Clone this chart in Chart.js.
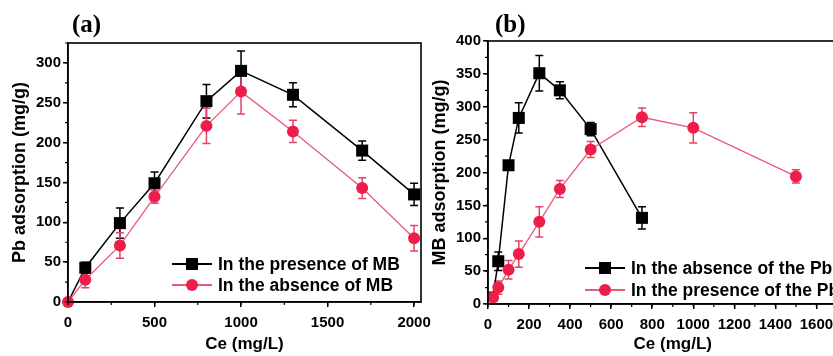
<!DOCTYPE html>
<html><head><meta charset="utf-8">
<script src="https://cdn.jsdelivr.net/npm/chart.js@4/dist/chart.umd.min.js"></script>
<style>
html,body{margin:0;padding:0;width:833px;height:356px;overflow:hidden;background:#fff;}
canvas{position:absolute;top:0;}
#ca{left:0;}
#cb{left:420px;}
.plabel{position:absolute;top:10px;font:bold 25px "Liberation Serif","Times New Roman",serif;color:#000;}
.leg{position:absolute;height:20px;line-height:20px;white-space:nowrap;font:bold 17.5px "Liberation Sans",Arial,sans-serif;color:#000;}
.leg .ln{position:absolute;left:0;top:9px;width:40px;height:1.5px;}
.leg .mk{position:absolute;}
.leg .tx{position:absolute;left:46px;top:0;}
</style>
</head><body>
<canvas id="ca" width="440" height="356"></canvas>
<canvas id="cb" width="446" height="356"></canvas>
<div class="plabel" style="left:72px;">(a)</div>
<div class="plabel" style="left:495px;">(b)</div>
<div class="leg" style="left:172px;top:254px;"><span class="ln" style="background:#000"></span><span class="mk" style="left:14px;top:4px;width:12px;height:12px;background:#000"></span><span class="tx" id="la1"></span></div>
<div class="leg" style="left:172px;top:275px;"><span class="ln" style="background:#e85a7a"></span><span class="mk" style="left:14px;top:4px;width:12px;height:12px;border-radius:50%;background:#ee1e4a"></span><span class="tx" id="la2"></span></div>
<div class="leg" style="left:585px;top:258px;"><span class="ln" style="background:#000"></span><span class="mk" style="left:14px;top:4px;width:12px;height:12px;background:#000"></span><span class="tx" id="lb1"></span></div>
<div class="leg" style="left:585px;top:280px;"><span class="ln" style="background:#e85a7a"></span><span class="mk" style="left:14px;top:4px;width:12px;height:12px;border-radius:50%;background:#ee1e4a"></span><span class="tx" id="lb2"></span></div>
<script>
// ---- Panel (a) data ----
const ceA = [0, 100, 300, 500, 800, 1000, 1300, 1700, 2000];
const pbWithMB = [0, 43, 99, 149, 252, 290, 260, 190, 135];
const pbWithMBErr = [0, 7, 19, 14, 21, 25, 15, 12, 14];
const pbWithoutMB = [0, 28, 71, 132, 221, 264, 214, 143, 80];
const pbWithoutMBErr = [0, 10, 16, 8, 22, 28, 14, 13, 16];
const labelsA = ['In the presence of MB', 'In the absence of MB'];
const ticksAX = [0, 500, 1000, 1500, 2000];
const ticksAY = [0, 50, 100, 150, 200, 250, 300];

// ---- Panel (b) data ----
const ceB1 = [25, 50, 100, 150, 250, 350, 500, 750];
const mbWithoutPb = [13, 65, 211, 283, 351, 325, 266, 131];
const mbWithoutPbErr = [5, 14, 0, 23, 27, 13, 10, 17];
const ceB2 = [25, 50, 100, 150, 250, 350, 500, 750, 1000, 1500];
const mbWithPb = [10, 25, 52, 76, 125, 175, 235, 284, 268, 194];
const mbWithPbErr = [6, 10, 14, 20, 23, 13, 12, 14, 23, 10];
const labelsB = ['In the absence of the Pb', 'In the presence of the Pb'];
const ticksBX = [0, 200, 400, 600, 800, 1000, 1200, 1400, 1600];
const ticksBY = [0, 50, 100, 150, 200, 250, 300, 350, 400];

const BLACK = '#000000', RED_PT = '#ee1e4a', RED_LN = '#e85a7a', RED_ERR = '#e04466';
const FONT = "'Liberation Sans', Arial, sans-serif";

document.getElementById('la1').textContent = labelsA[0];
document.getElementById('la2').textContent = labelsA[1];
document.getElementById('lb1').textContent = labelsB[0];
document.getElementById('lb2').textContent = labelsB[1];

const errorBars = {
  id: 'errorBars',
  beforeDatasetsDraw(chart) {
    const ctx = chart.ctx, ys = chart.scales.y;
    chart.data.datasets.forEach((ds, i) => {
      if (!ds.errors) return;
      const meta = chart.getDatasetMeta(i);
      ctx.save();
      ctx.strokeStyle = ds.errorColor; ctx.lineWidth = 1.5;
      meta.data.forEach((pt, j) => {
        const e = ds.errors[j]; if (!e) return;
        const v = ds.data[j].y;
        const yt = ys.getPixelForValue(v + e), yb = ys.getPixelForValue(v - e);
        ctx.beginPath();
        ctx.moveTo(pt.x, yt); ctx.lineTo(pt.x, yb);
        ctx.moveTo(pt.x - 4, yt); ctx.lineTo(pt.x + 4, yt);
        ctx.moveTo(pt.x - 4, yb); ctx.lineTo(pt.x + 4, yb);
        ctx.stroke();
      });
      ctx.restore();
    });
  }
};

const frame = {
  id: 'frame',
  afterDraw(chart, args, opts) {
    const {ctx, chartArea: a} = chart;
    ctx.save();
    ctx.strokeStyle = '#000'; ctx.lineWidth = 1.6;
    ctx.strokeRect(a.left, a.top, a.right - a.left, a.bottom - a.top);
    ctx.lineWidth = 1.2;
    const xs = chart.scales.x, ys = chart.scales.y;
    ctx.beginPath();
    for (let v = xs.min; v <= xs.max; v += opts.xMinor) {
      const p = xs.getPixelForValue(v);
      ctx.moveTo(p, a.bottom); ctx.lineTo(p, a.bottom + 3);
    }
    for (let v = ys.min; v <= ys.max; v += opts.yMinor) {
      const p = ys.getPixelForValue(v);
      ctx.moveTo(a.left, p); ctx.lineTo(a.left - 3, p);
    }
    ctx.stroke();
    ctx.restore();
  }
};

function pts(xs, ys) { return xs.map((x, i) => ({x: x, y: ys[i]})); }

function makeScales(xmin, xmax, ymin, ymax, tx, ty, xTitle, yTitle, yW, xH) {
  const common = {
    grid: {display: true, drawOnChartArea: false, drawTicks: true, tickLength: 5, color: '#000', lineWidth: 1.5},
    border: {display: true, color: '#000', width: 1.5},
  };
  return {
    x: Object.assign({}, common, {
      type: 'linear', min: xmin, max: xmax,
      afterBuildTicks: s => { s.ticks = tx.map(v => ({value: v})); },
      afterFit: s => { s.height = xH; s.paddingLeft = 0; s.paddingRight = 0; },
      ticks: {autoSkip: false, maxRotation: 0, padding: 7, color: '#000', callback: v => String(v), font: {family: FONT, size: 15, weight: 'bold'}},
      title: {display: true, text: xTitle, color: '#000', padding: {top: 0, bottom: 1}, font: {family: FONT, size: 17, weight: 'bold'}}
    }),
    y: Object.assign({}, common, {
      type: 'linear', min: ymin, max: ymax,
      afterBuildTicks: s => { s.ticks = ty.map(v => ({value: v})); },
      afterFit: s => { s.width = yW; s.paddingTop = 0; s.paddingBottom = 0; },
      ticks: {autoSkip: false, padding: 2, color: '#000', callback: v => String(v), font: {family: FONT, size: 15, weight: 'bold'}},
      title: {display: true, text: yTitle, color: '#000', padding: {top: 9, bottom: 0}, font: {family: FONT, size: 18, weight: 'bold'}}
    })
  };
}

function ds(label, data, errs, isRed) {
  return {
    label: label, data: data, errors: errs,
    order: isRed ? 0 : 1,
    errorColor: isRed ? RED_ERR : BLACK,
    borderColor: isRed ? RED_LN : BLACK,
    borderWidth: isRed ? 1.3 : 1.5,
    backgroundColor: isRed ? RED_PT : BLACK,
    pointBackgroundColor: isRed ? RED_PT : BLACK,
    pointBorderColor: isRed ? RED_PT : BLACK,
    pointBorderWidth: 0,
    pointStyle: isRed ? 'circle' : 'rect',
    // the first black point is hidden beneath the red one in the reference
    pointRadius: isRed ? 6 : (c => c.dataIndex === 0 ? 0 : 8.5),
    pointHoverRadius: isRed ? 6 : (c => c.dataIndex === 0 ? 0 : 8.5),
    tension: 0, fill: false, showLine: true, clip: false
  };
}

new Chart(document.getElementById('ca'), {
  type: 'scatter',
  data: {datasets: [
    ds(labelsA[0], pts(ceA, pbWithMB), pbWithMBErr, false),
    ds(labelsA[1], pts(ceA, pbWithoutMB), pbWithoutMBErr, true)
  ]},
  options: {
    responsive: false, animation: false, events: [],
    layout: {padding: {left: 0, right: 19, top: 43, bottom: 0}},
    plugins: {legend: {display: false}, tooltip: {enabled: false}, frame: {xMinor: 250, yMinor: 25}},
    scales: makeScales(0, 2040, 0, 325, ticksAX, ticksAY, 'Ce (mg/L)', 'Pb adsorption (mg/g)', 68, 54)
  },
  plugins: [errorBars, frame]
});

new Chart(document.getElementById('cb'), {
  type: 'scatter',
  data: {datasets: [
    ds(labelsB[0], pts(ceB1, mbWithoutPb), mbWithoutPbErr, false),
    ds(labelsB[1], pts(ceB2, mbWithPb), mbWithPbErr, true)
  ]},
  options: {
    responsive: false, animation: false, events: [],
    layout: {padding: {left: 0, right: 2, top: 41, bottom: 0}},
    plugins: {legend: {display: false}, tooltip: {enabled: false}, frame: {xMinor: 100, yMinor: 25}},
    scales: makeScales(0, 1800, 0, 400, ticksBX, ticksBY, 'Ce (mg/L)', 'MB adsorption (mg/g)', 68, 52)
  },
  plugins: [errorBars, frame]
});
</script>
</body></html>
